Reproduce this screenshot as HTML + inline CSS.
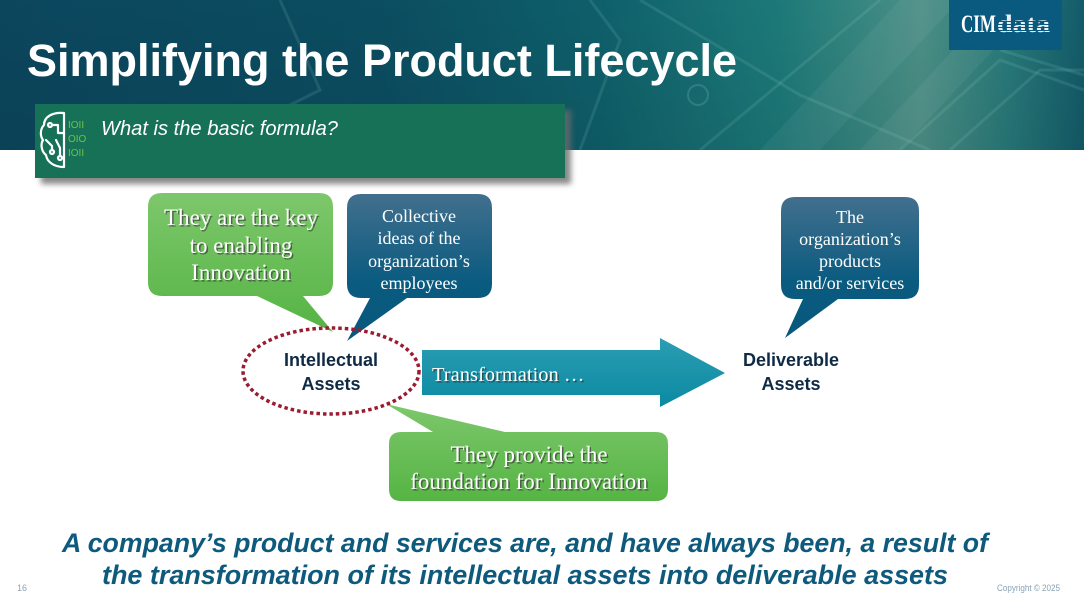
<!DOCTYPE html>
<html>
<head>
<meta charset="utf-8">
<style>
html,body{margin:0;padding:0;background:#fff;}
body{width:1084px;height:609px;overflow:hidden;}
svg{display:block;}
</style>
</head>
<body>
<svg width="1084" height="609" viewBox="0 0 1084 609" xmlns="http://www.w3.org/2000/svg">
<defs>
  <linearGradient id="hdr" x1="0" y1="0" x2="1" y2="0">
    <stop offset="0" stop-color="#0c4a62"/>
    <stop offset="0.35" stop-color="#0c5166"/>
    <stop offset="0.55" stop-color="#0f6470"/>
    <stop offset="0.72" stop-color="#1e807f"/>
    <stop offset="0.85" stop-color="#4f978d"/>
    <stop offset="0.93" stop-color="#2a8080"/>
    <stop offset="1" stop-color="#14606f"/>
  </linearGradient>
  <linearGradient id="hdrV" x1="0" y1="0" x2="0" y2="1">
    <stop offset="0" stop-color="#000" stop-opacity="0.05"/>
    <stop offset="1" stop-color="#000" stop-opacity="0.12"/>
  </linearGradient>
  <linearGradient id="green" x1="0" y1="0" x2="0" y2="1">
    <stop offset="0" stop-color="#7dc76c"/>
    <stop offset="1" stop-color="#56b444"/>
  </linearGradient>
  <linearGradient id="blue" x1="0" y1="0" x2="0" y2="1">
    <stop offset="0" stop-color="#426f8d"/>
    <stop offset="0.6" stop-color="#0a5b80"/>
    <stop offset="1" stop-color="#08587c"/>
  </linearGradient>
  <linearGradient id="arrow" x1="0" y1="0" x2="0" y2="1">
    <stop offset="0" stop-color="#2b9db2"/>
    <stop offset="1" stop-color="#0b8aa2"/>
  </linearGradient>
  <filter id="shadow" x="-10%" y="-30%" width="130%" height="180%">
    <feGaussianBlur stdDeviation="3"/>
  </filter>
</defs>

<!-- Header -->
<rect x="0" y="0" width="1084" height="150" fill="url(#hdr)"/>
<rect x="0" y="0" width="1084" height="150" fill="url(#hdrV)"/>
<g stroke="#9fd3cc" stroke-opacity="0.14" fill="none" stroke-width="3">
  <polyline points="590,0 620,40 580,150"/>
  <polyline points="640,0 800,95 930,150"/>
  <polyline points="700,150 880,0"/>
  <polyline points="900,150 1000,60 1084,90"/>
  <polyline points="950,150 1040,70 1084,70"/>
  <polyline points="1000,50 1084,75"/>
  <polyline points="280,0 320,90 200,150"/>
</g>
<g fill="#ffffff" fill-opacity="0.05">
  <polygon points="760,150 900,0 960,0 820,150"/>
  <polygon points="860,150 1000,0 1040,0 900,150"/>
</g>
<circle cx="698" cy="95" r="10" fill="none" stroke="#9fd3cc" stroke-opacity="0.2" stroke-width="2"/>

<!-- Logo -->
<rect x="949" y="0" width="113" height="50" fill="#0a5a80"/>
<text x="961" y="32" font-family="Liberation Serif, serif" font-weight="bold" font-size="25" fill="#fff" textLength="35" lengthAdjust="spacingAndGlyphs">CIM</text>
<text x="997" y="32" font-family="Liberation Serif, serif" font-weight="bold" font-size="25" fill="#e8f0f4" textLength="53" lengthAdjust="spacingAndGlyphs">data</text>
<g stroke="#0a5a80" stroke-width="1">
  <line x1="997" y1="21.5" x2="1052" y2="21.5"/>
  <line x1="997" y1="24.5" x2="1052" y2="24.5"/>
  <line x1="997" y1="27.5" x2="1052" y2="27.5"/>
  <line x1="997" y1="30.5" x2="1052" y2="30.5"/>
</g>

<!-- Title -->
<text x="27" y="76" font-family="Liberation Sans, sans-serif" font-weight="bold" font-size="45" fill="#ffffff" textLength="710" lengthAdjust="spacingAndGlyphs">Simplifying the Product Lifecycle</text>

<!-- Banner -->
<rect x="41" y="110" width="530" height="74" fill="#6a6a6a" opacity="0.8" filter="url(#shadow)"/>
<rect x="35" y="104" width="530" height="74" fill="#167157"/>
<!-- icon -->
<g fill="none" stroke="#ffffff" stroke-width="2.2" stroke-linecap="round" stroke-linejoin="round">
  <path d="M64,113 C52,112 44,117 44,125 C40,129 40,136 43,140 C40,145 42,152 46,155 C47,162 54,167 64,167 Z"/>
  <circle cx="50" cy="125" r="2"/>
  <path d="M52,125 L58,125 L58,133 L64,133"/>
  <path d="M46,140 L52,146 L52,150"/>
  <circle cx="52" cy="152" r="2"/>
  <path d="M56,140 L60,148 L60,156"/>
  <circle cx="60" cy="158" r="2"/>
</g>
<g font-family="Liberation Sans, sans-serif" font-size="10" fill="#6cc34b">
  <text x="68" y="128">IOII</text>
  <text x="68" y="142">OIO</text>
  <text x="68" y="156">IOII</text>
</g>
<text x="101" y="135" font-family="Liberation Sans, sans-serif" font-style="italic" font-size="20" fill="#ffffff" textLength="237" lengthAdjust="spacingAndGlyphs">What is the basic formula?</text>

<!-- Green callout 1 -->
<path d="M162,193 H319 Q333,193 333,207 V282 Q333,296 319,296 H303 L333,332 L257,296 H162 Q148,296 148,282 V207 Q148,193 162,193 Z" fill="url(#green)"/>
<g font-family="Liberation Serif, serif" font-size="23" text-anchor="middle">
  <g fill="#3a3a3a" fill-opacity="0.7" transform="translate(1.5,1.5)">
    <text x="241" y="225">They are the key</text>
    <text x="241" y="253">to enabling</text>
    <text x="241" y="280">Innovation</text>
  </g>
  <g fill="#ffffff">
    <text x="241" y="225">They are the key</text>
    <text x="241" y="253">to enabling</text>
    <text x="241" y="280">Innovation</text>
  </g>
</g>

<!-- Blue callout 1 -->
<path d="M361,194 H478 Q492,194 492,208 V284 Q492,298 478,298 H407 L347,341 L370,298 H361 Q347,298 347,284 V208 Q347,194 361,194 Z" fill="url(#blue)"/>
<g font-family="Liberation Serif, serif" font-size="18" text-anchor="middle" fill="#ffffff">
  <text x="419" y="222">Collective</text>
  <text x="419" y="244">ideas of the</text>
  <text x="419" y="267">organization’s</text>
  <text x="419" y="289">employees</text>
</g>

<!-- Blue callout 2 -->
<path d="M795,197 H905 Q919,197 919,211 V285 Q919,299 905,299 H838 L785,338 L803,299 H795 Q781,299 781,285 V211 Q781,197 795,197 Z" fill="url(#blue)"/>
<g font-family="Liberation Serif, serif" font-size="18" text-anchor="middle" fill="#ffffff">
  <text x="850" y="223">The</text>
  <text x="850" y="245">organization’s</text>
  <text x="850" y="267">products</text>
  <text x="850" y="289">and/or services</text>
</g>

<!-- Green callout 2 -->
<path d="M401,432 H433 L386,404 L505,432 H656 Q668,432 668,444 V489 Q668,501 656,501 H401 Q389,501 389,489 V444 Q389,432 401,432 Z" fill="url(#green)"/>
<g font-family="Liberation Serif, serif" font-size="23" text-anchor="middle">
  <g fill="#3a3a3a" fill-opacity="0.7" transform="translate(1.5,1.5)">
    <text x="529" y="462">They provide the</text>
    <text x="529" y="489">foundation for Innovation</text>
  </g>
  <g fill="#ffffff">
    <text x="529" y="462">They provide the</text>
    <text x="529" y="489">foundation for Innovation</text>
  </g>
</g>

<!-- Arrow -->
<path d="M422,350 H660 V338 L725,373 L660,407 V395 H422 Z" fill="url(#arrow)"/>
<text x="433.5" y="382.5" font-family="Liberation Serif, serif" font-size="20.5" fill="#2a2a2a" fill-opacity="0.6">Transformation …</text>
<text x="432" y="381" font-family="Liberation Serif, serif" font-size="20.5" fill="#ffffff">Transformation …</text>

<!-- Ellipse -->
<ellipse cx="331" cy="371" rx="88" ry="43" fill="none" stroke="#9b1b30" stroke-width="3.5" stroke-dasharray="3.5 3"/>
<g font-family="Liberation Sans, sans-serif" font-weight="bold" font-size="18" fill="#0f2a44" text-anchor="middle">
  <text x="331" y="366">Intellectual</text>
  <text x="331" y="390">Assets</text>
  <text x="791" y="366">Deliverable</text>
  <text x="791" y="390">Assets</text>
</g>

<!-- Bottom statement -->
<g font-family="Liberation Sans, sans-serif" font-weight="bold" font-style="italic" font-size="27" fill="#0e5a7d" text-anchor="middle">
  <text x="525" y="552" textLength="926" lengthAdjust="spacingAndGlyphs">A company’s product and services are, and have always been, a result of</text>
  <text x="525" y="584" textLength="846" lengthAdjust="spacingAndGlyphs">the transformation of its intellectual assets into deliverable assets</text>
</g>

<!-- Footer -->
<text x="17" y="591" font-family="Liberation Sans, sans-serif" font-size="9" fill="#8aa2b4">16</text>
<text x="997" y="591" font-family="Liberation Sans, sans-serif" font-size="9" fill="#8aa2b4" textLength="63" lengthAdjust="spacingAndGlyphs">Copyright © 2025</text>
</svg>
</body>
</html>
